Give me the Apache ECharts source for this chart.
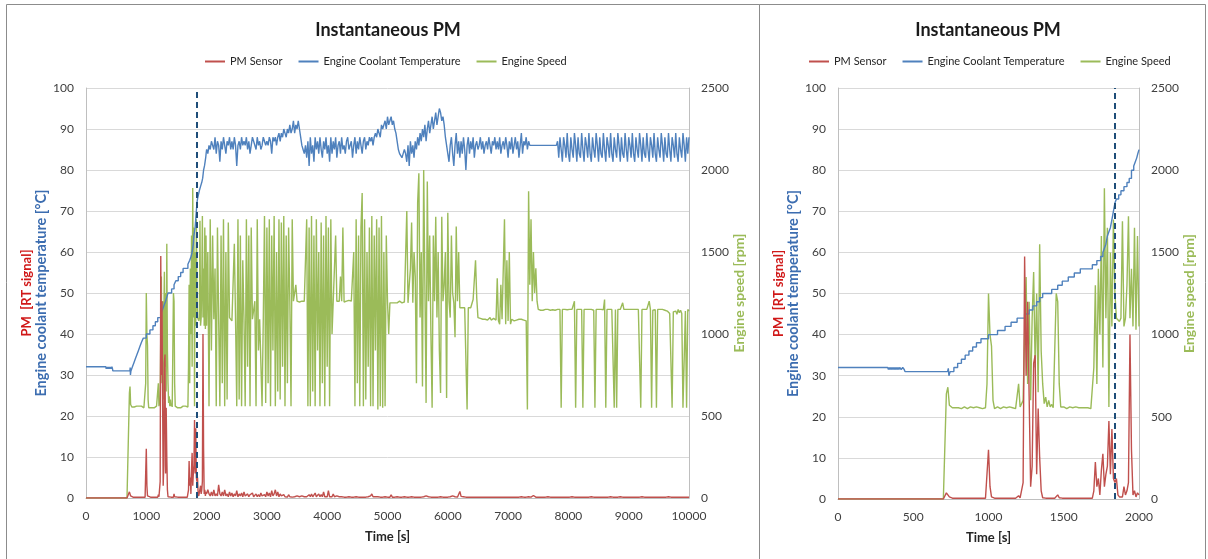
<!DOCTYPE html>
<html><head><meta charset="utf-8">
<script src="https://cdn.jsdelivr.net/npm/echarts@6/dist/echarts.min.js"></script>
<style>html,body{margin:0;padding:0;background:#fff}#c{width:1208px;height:559px}</style>
</head><body><div id="c"></div>
<script>
const TITLE = 'Instantaneous PM';
const SERIES_NAMES = ['PM Sensor', 'Engine Coolant Temperature', 'Engine Speed'];
const X_NAME = 'Time [s]';
const Y_LEFT_NAME_PM = 'PM  [RT signal]';
const Y_LEFT_NAME_T = 'Engine coolant temperature [°C]';
const Y_RIGHT_NAME = 'Engine speed [rpm]';
const MARKER_TIME = 1840;

// sampling of the value lists
const EARLY_STEP = 10;      // 0 .. 2000 s
const LATE_START = 2020;    // 2020 .. 10000 s
const LATE_STEP = 20;

// ---------- Engine speed [rpm], 0..2000 s every 10 s ----------
const speedEarly = [
 0,0,0,0,0,0,0,0,0,0,0,0,0,0,0,0,0,0,0,0,
 0,0,0,0,0,0,0,0,0,0,0,0,0,0,0,0,0,0,0,0,
 0,0,0,0,0,0,0,0,0,0,0,0,0,0,0,0,0,0,0,0,
 0,0,0,0,0,0,0,0,0,0,0,0,640,680,570,560,555,560,555,550,
 555,560,550,555,560,555,550,555,560,555,555,550,560,555,555,560,550,555,555,700,
 1250,1000,930,600,550,555,560,555,550,555,560,555,555,550,560,555,555,560,550,555,
 700,560,555,600,1000,1350,700,1200,600,1100,1380,800,1250,650,1550,900,700,580,620,560,
 600,560,575,555,555,1250,1200,700,560,555,560,555,550,555,560,555,555,550,560,555,
 555,560,555,550,555,560,555,555,550,555,800,1300,700,1400,1000,1600,800,1890,1100,1650,
 560,1500,1050,1700,1250,1100,1090,1080,1100,1690,1050,1100,1300,1720,1100,1400,1050,1650,1030,1600,
 1050
];
// ---------- Engine speed [rpm], 2020..10000 s every 20 s ----------
const speedLate = [
 1500,560,1700,900,1600, 1090,1400,560,1650,1090, 560,1600,700,1700,560, 1500,600,1680,1100,1090, 1080,1090,1550,1085,560, 1700,600,1600,560,1450, 1090,560,1700,800,1600, 560,1650,1090,1085,1200, 560,1700,900,1090,1085, 560,1090,1720,580,1650,
 700,1700,560,1600,900, 1720,560,1500,650,1700, 600,1680,800,1720,560, 1600,700,1650,1200,560, 1700,1200,1195,1300,1200, 1200,1195,1205,1200,1190, 1200,1200,1700,560,1650, 560,1720,650,1600,560, 1700,900,1500,560,1680, 700,1600,560,1720,800,
 1650,560,1700,1000,1200, 1195,1600,1200,1190,1200, 1350,1200,1650,1195,1200, 1200,1195,1205,1200,1200, 1195,1500,560,1700,700, 1600,560,1650,1860,560, 1700,600,1500,800,1650, 560,1720,560,1600,900, 1700,540,1650,560,1720, 550,1500,560,1600,1200,
 1000,1190,1195,1190,1200, 1190,1195,1190,1190,1200, 1195,1190,1190,1195,1190, 1750,1190,1200,1400,1680, 1190,1500,1350,700,1800, 1980,1100,1500,680,2000, 1300,580,1930,1200,1600, 1000,550,1600,1200,1715, 1100,1500,900,640,1715, 1200,1300,1500,610,1740,
 1200,1100,1600,1250,1190, 980,1655,1200,1500,1160, 1150,1160,1155,1160,1150, 540,1160,1155,1160,1165, 1210,1220,1450,1220,1100, 1090,1095,1085,1090,1080, 1090,1095,1085,1090,1100, 1085,1090,1095,1090,1085, 1340,1080,1060,1300,1090, 1090,1700,1060,1450,1080,
 1500,1060,1090,1085,1080, 1090,1085,1080,1090,1085, 1090,1080,1085,1090,1080, 540,1870,1300,1700,1200, 1500,1250,1400,1200,1150, 1150,1145,1150,1145,1150, 1150,1145,1150,1150,1145, 1150,1148,1150,1145,1150, 1150,1145,1150,550,1150, 1145,1150,1150,1148,1150,
 1150,1145,1150,1148,1200, 550,1150,1145,1150,1148, 1150,550,1150,1145,1150, 1148,1150,1145,1150,1150, 1145,550,1150,1148,1150, 1145,1150,1150,1148,1210, 550,1150,1145,1150,1148, 1150,1145,550,1150,550, 1150,1145,1150,1148,1190, 1150,1145,1150,1148,1150,
 1145,1150,1148,1150,1145, 1150,1148,1150,1145,550, 1150,1148,1150,1145,1150, 1148,1200,1150,550,1145, 1150,1148,550,1150,1145, 1150,1148,1150,1140,1145, 1135,1140,1130,1125,1130, 550,1135,1125,1140,1120, 1150,1130,1145,1125,550, 550,1140,550,1150,1140
];

// ---------- PM sensor [RT signal], 0..2000 s every 10 s ----------
const pmEarly = [
 0,0,0,0,0,0,0,0,0,0,0,0,0,0,0,0,0,0,0,0,
 0,0,0,0,0,0,0,0,0,0,0,0,0,0,0,0,0,0,0,0,
 0,0,0,0,0,0,0,0,0,0,0,0,0,0,0,0,0,0,0,0,
 0,0,0,0,0,0,0,0,0,0,0,0,1.5,1,0.5,0.3,0.2,0.2,0.2,0.2,
 0.2,0.2,0.2,0.2,0.2,0.2,0.2,0.2,0.2,0.2,0.2,0.2,0.2,0.2,0.2,0.2,0.2,0.2,0.2,0.5,
 12,3,0.5,0.2,0.2,0.2,0.2,0.2,0.2,0.2,0.2,0.2,0.2,0.2,0.2,0.2,0.2,0.2,0.2,0.2,
 0.8,0.3,0.5,4,59,30,48,25,3,8,33,35,6,22,10,2,0.3,0.2,0.2,0.2,
 0.2,0.2,0.2,0.2,0.2,0.2,1,0.3,0.2,0.2,0.2,0.2,0.2,0.2,0.2,0.2,0.2,0.2,0.2,0.2,
 0.2,0.2,0.2,0.2,0.2,0.2,0.2,0.2,0.2,0.2,2,9,3,5,1,7,11,3,6,8,
 19,6,17,5,4,5,1,0.5,0.3,0.5,3,1,2,4,40,12,1,2,0.5,1.5,
 1
];
// ---------- PM sensor, 2020..10000 s every 20 s ----------
const pmLate = [
 2,1,0.5,1.5,0.5, 2,0.5,1,0.5,3.2, 1,0.5,1.5,0.5,2, 0.5,1,0.3,1.5,0.5, 1.2,0.3,1,0.5,1.8, 0.3,1,0.5,1.2,0.3, 1.5,0.5,0.3,1,0.3, 0.8,0.5,1.2,0.3,0.5, 1,0.3,0.8,0.3,1.2, 0.5,0.3,0.8,0.3,1.5,
 0.5,1.2,0.3,1.8,0.5, 1,2,0.5,1.5,0.3, 1,0.5,0.3,0.8,0.3, 0.5,0.2,0.8,0.3,0.5, 0.2,0.5,0.3,0.2,0.5, 0.2,0.3,0.2,0.5,0.2, 0.3,0.2,0.3,0.2,0.8, 0.3,1,0.3,0.5,1.2, 0.3,0.5,1,0.3,0.8, 0.3,1.5,0.3,0.5,0.3,
 1.8,0.3,0.5,0.3,1, 0.3,0.2,0.5,0.2,0.3, 0.2,0.3,0.2,0.2,0.3, 0.2,0.2,0.3,0.2,0.2, 0.3,0.2,0.2,0.3,0.2, 0.2,0.3,0.2,0.2,0.2, 0.3,0.2,0.2,0.3,0.2, 0.5,1,0.3,0.2,0.3, 0.2,0.3,0.2,0.2,0.3, 0.2,0.2,0.3,0.2,0.2,
 0.3,0.2,0.8,0.2,0.3, 0.2,0.2,0.3,0.2,0.2, 0.3,0.2,0.2,0.3,0.2, 0.2,0.3,0.2,0.2,0.3, 0.2,0.2,0.3,0.2,0.5, 0.2,0.3,0.2,0.2,0.3, 0.2,0.5,0.2,0.3,0.2, 0.2,0.3,0.2,0.6,0.2, 0.3,0.2,0.2,0.3,0.2, 0.2,0.5,0.2,0.3,0.2,
 0.2,0.3,0.2,0.5,0.2, 0.3,0.2,0.2,0.3,1.6, 0.4,0.2,0.3,0.2,0.2, 0.2,0.2,0.3,0.2,0.2, 0.2,0.3,0.2,0.2,0.2, 0.3,0.2,0.2,0.2,0.3, 0.2,0.2,0.2,0.3,0.2, 0.2,0.2,0.3,0.2,0.2, 0.2,0.3,0.2,0.2,0.2, 0.2,0.2,0.3,0.2,0.2,
 0.2,0.2,0.2,0.3,0.2, 0.2,0.2,0.2,0.2,0.2, 0.3,0.2,0.2,0.2,0.2, 0.2,0.3,0.2,0.2,0.2, 0.6,0.3,0.2,0.2,0.2, 0.2,0.2,0.2,0.2,0.2, 0.2,0.2,0.3,0.2,0.2, 0.2,0.2,0.2,0.2,0.2, 0.2,0.3,0.2,0.2,0.2, 0.2,0.2,0.2,0.2,0.2,
 0.2,0.2,0.3,0.2,0.2, 0.2,0.2,0.2,0.2,0.2, 0.2,0.3,0.2,0.2,0.2, 0.2,0.2,0.2,0.3,0.2, 0.2,0.2,0.2,0.2,0.2, 0.3,0.2,0.2,0.2,0.2, 0.2,0.2,0.2,0.2,0.3, 0.2,0.2,0.2,0.2,0.2, 0.2,0.2,0.3,0.2,0.2, 0.2,0.2,0.2,0.2,0.2,
 0.2,0.2,0.2,0.3,0.2, 0.2,0.2,0.2,0.2,0.2, 0.3,0.2,0.2,0.2,0.2, 0.2,0.2,0.2,0.2,0.2, 0.2,0.3,0.2,0.2,0.2, 0.2,0.2,0.2,0.2,0.2, 0.2,0.2,0.3,0.2,0.2, 0.2,0.2,0.2,0.2,0.2, 0.2,0.2,0.2,0.3,0.2, 0.2,0.2,0.2,0.2,0.2
];

// ---------- Coolant temperature [°C], 0..2000 s, [time, value] stair points ----------
const coolantEarly = [
 [0,32],[330,32],[335,31.5],[340,32],[345,31.5],[350,32],[355,31.5],[360,32],[365,31.5],[370,32],
 [375,31.5],[380,32],[385,31.5],[390,32],[395,31.5],[400,32],[405,31.5],[410,32],[420,31.5],[430,32],
 [440,31.5],[445,31],[728,31],[733,31.8],[737,30],[745,31],[770,32],[795,33],[820,34],[845,35],
 [870,36],[895,37],[920,38],[950,39],[1000,40],[1060,41],[1110,42],[1150,43],[1190,44],[1240,45],
 [1270,46],[1295,47],[1320,48],[1340,49],[1360,50],[1420,51],[1460,52],[1490,53],[1530,54],[1570,55],
 [1610,56],[1690,57],[1720,58],[1745,59],[1760,60],[1770,61],[1780,62],[1790,64],[1800,65],[1810,66],
 [1820,68],[1830,70],[1840,72],[1850,73],[1865,74],[1880,75],[1900,76],[1920,77],[1935,78],[1950,80],
 [1965,81],[1975,82],[1985,83],[1992,84],[2000,85]
];
// ---------- Coolant temperature, 2020..10000 s every 20 s ----------
const coolantLate = [
 84,86,85,87,86, 85,88,84,87,86, 82,87,85,88,86, 84,87,86,88,85, 87,85,88,86,81, 86,87,85,88,86, 87,86,88,85,87, 84,86,88,87,86, 85,88,86,87,85, 86,88,87,86,87,
 86,88,87,84,88, 87,88,86,88,89, 87,89,88,90,89, 88,90,89,91,89, 90,92,89,91,90, 92,90,88,86,85, 84,86,83,87,81, 88,84,86,82,88, 85,87,84,88,85, 83,87,85,88,84,
 86,82,88,84,87, 85,88,83,86,87, 84,88,85,86,84, 87,88,85,86,87, 83,86,88,84,87, 85,88,86,84,87, 88,85,87,86,88, 87,88,86,88,89, 88,90,89,88,91, 90,91,92,90,93,
 91,92,93,91,92, 90,89,87,85,84, 84,83,84,85,84, 82,86,81,87,84, 86,83,87,85,88, 86,89,87,90,88, 91,87,90,92,89, 91,93,90,92,94, 91,93,95,94,92, 93,91,88,86,84,
 82,86,88,84,81, 86,89,84,87,83, 87,84,88,85,80, 86,88,84,87,85, 88,83,86,87,85, 86,88,85,87,84, 86,87,85,88,86, 84,87,86,88,85, 87,85,88,84,86, 87,85,88,86,83,
 87,85,88,84,86, 88,85,87,83,86, 89,84,87,86,88, 85,87,86,86,86, 86,86,86,86,86, 86,86,86,86,86, 86,86,86,86,86, 86,86,86,86,86, 87,83,88,85,82, 88,86,83,89,84,
 82,88,85,83,89, 86,82,88,84,83, 89,85,82,88,86, 83,89,84,82,88, 85,83,89,86,82, 88,84,83,89,85, 82,88,86,83,89, 84,82,88,85,83, 89,86,82,88,84, 83,89,85,82,88,
 86,83,89,84,82, 88,85,83,89,86, 82,88,84,83,89, 85,82,88,86,83, 89,84,82,88,85, 83,89,86,82,88, 84,83,89,85,82, 88,86,83,89,84, 82,88,85,83,89, 86,82,88,84,88
];

// ---------- axis scales ----------
const TEMP_AXIS = {min: 0, max: 100, interval: 10};
const RPM_AXIS = {min: 0, max: 2500, interval: 500};
const TIME_LEFT = {min: 0, max: 10000, interval: 1000};
const TIME_RIGHT = {min: 0, max: 2000, interval: 500};

const COLORS = {pm: '#C0504D', temp: '#4F81BD', rpm: '#9BBB59', marker: '#1F4E79'};
const FONT = 'Lato, "Open Sans", sans-serif';
const plain = v => String(v);

const early = vals => vals.map((v, i) => [i * EARLY_STEP, v]);
const late = vals => vals.map((v, i) => [LATE_START + i * LATE_STEP, v]);

const pmFull = early(pmEarly).concat(late(pmLate));
const speedFull = early(speedEarly).concat(late(speedLate));
const coolantLateFull = [coolantEarly[coolantEarly.length - 1]].concat(late(coolantLate));

const chart = echarts.init(document.getElementById('c'), null, {renderer: 'canvas'});

function xAxis(gi, sc) {
  return {
    type: 'value', gridIndex: gi, min: sc.min, max: sc.max, interval: sc.interval,
    name: X_NAME, nameLocation: 'middle', nameGap: 32,
    nameTextStyle: {fontFamily: FONT, fontWeight: 'bold', fontSize: 13, color: '#262626'},
    axisLine: {show: true, lineStyle: {color: '#bfbfbf'}},
    axisTick: {show: false}, splitLine: {show: false},
    axisLabel: {fontFamily: FONT, fontSize: 12, color: '#404040', margin: 12, formatter: plain}
  };
}
function yTemp(gi, gap) {
  return {
    type: 'value', gridIndex: gi, position: 'left', min: TEMP_AXIS.min, max: TEMP_AXIS.max, interval: TEMP_AXIS.interval,
    name: '{r|' + Y_LEFT_NAME_PM + '}\n{b|' + Y_LEFT_NAME_T + '}',
    nameLocation: 'middle', nameRotate: 90, nameGap: gap,
    nameTextStyle: {
      fontFamily: FONT, fontWeight: 'bold', fontSize: 14, lineHeight: 15,
      rich: {
        r: {color: '#D01818', fontFamily: FONT, fontWeight: 'bold', fontSize: 13, lineHeight: 15},
        b: {color: '#3C6DB0', fontFamily: FONT, fontWeight: 'bold', fontSize: 14.5, lineHeight: 15}
      }
    },
    axisLine: {show: true, lineStyle: {color: '#bfbfbf'}},
    axisTick: {show: false},
    splitLine: {show: true, lineStyle: {color: '#d9d9d9', width: 1}},
    axisLabel: {fontFamily: FONT, fontSize: 12, color: '#404040', margin: 12, formatter: plain}
  };
}
function yRpm(gi, gap) {
  return {
    type: 'value', gridIndex: gi, position: 'right', min: RPM_AXIS.min, max: RPM_AXIS.max, interval: RPM_AXIS.interval,
    name: Y_RIGHT_NAME, nameLocation: 'middle', nameRotate: 90, nameGap: gap,
    nameTextStyle: {fontFamily: FONT, fontWeight: 'bold', fontSize: 14, color: COLORS.rpm},
    axisLine: {show: true, lineStyle: {color: '#bfbfbf'}},
    axisTick: {show: false}, splitLine: {show: false},
    axisLabel: {fontFamily: FONT, fontSize: 12, color: '#404040', margin: 12, formatter: plain}
  };
}
function lineSeries(name, color, xi, yi, data, extra) {
  return Object.assign({
    type: 'line', name: name, xAxisIndex: xi, yAxisIndex: yi, data: data,
    symbol: 'none', showSymbol: false, animation: false,
    lineStyle: {color: color, width: 1.4}, itemStyle: {color: color}
  }, extra || {});
}
function marker() {
  return {
    silent: true, symbol: 'none', animation: false,
    label: {show: false},
    lineStyle: {color: COLORS.marker, type: [6, 4], width: 2},
    data: [{xAxis: MARKER_TIME}]
  };
}
function legend(left) {
  return {
    data: SERIES_NAMES, left: left, top: 51, icon: 'rect', itemWidth: 20, itemHeight: 2, itemGap: 16,
    textStyle: {fontFamily: FONT, fontSize: 11, color: '#262626'}
  };
}

const option = {
  animation: false,
  backgroundColor: '#ffffff',
  title: [
    {text: TITLE, left: 383, top: 16, textAlign: 'center',
     textStyle: {fontFamily: FONT, fontWeight: 'bold', fontSize: 18, color: '#1a1a1a'}},
    {text: TITLE, left: 983, top: 16, textAlign: 'center',
     textStyle: {fontFamily: FONT, fontWeight: 'bold', fontSize: 18, color: '#1a1a1a'}}
  ],
  legend: [legend(200), legend(804)],
  grid: [
    {left: 86, right: 519, top: 88, bottom: 61},
    {left: 838, right: 69, top: 88, bottom: 60}
  ],
  xAxis: [xAxis(0, TIME_LEFT), xAxis(1, TIME_RIGHT)],
  yAxis: [yTemp(0, 34), yRpm(0, 43), yTemp(1, 30), yRpm(1, 42)],
  series: [
    lineSeries(SERIES_NAMES[2], COLORS.rpm, 0, 1, speedFull),
    lineSeries(SERIES_NAMES[1], COLORS.temp, 0, 0, coolantEarly, {step: 'end'}),
    lineSeries(SERIES_NAMES[1], COLORS.temp, 0, 0, coolantLateFull, {markLine: marker()}),
    lineSeries(SERIES_NAMES[0], COLORS.pm, 0, 0, pmFull),
    lineSeries(SERIES_NAMES[2], COLORS.rpm, 1, 3, early(speedEarly)),
    lineSeries(SERIES_NAMES[1], COLORS.temp, 1, 2, coolantEarly, {step: 'end', markLine: marker()}),
    lineSeries(SERIES_NAMES[0], COLORS.pm, 1, 2, early(pmEarly))
  ],
  graphic: [
    {type: 'rect', silent: true, z: -10, shape: {x: 6.5, y: 4.5, width: 753, height: 600},
     style: {fill: 'none', stroke: '#8c8c8c', lineWidth: 1}},
    {type: 'rect', silent: true, z: -10, shape: {x: 759.5, y: 4.5, width: 446, height: 600},
     style: {fill: 'none', stroke: '#8c8c8c', lineWidth: 1}}
  ]
};
chart.setOption(option);
</script>
</body></html>
